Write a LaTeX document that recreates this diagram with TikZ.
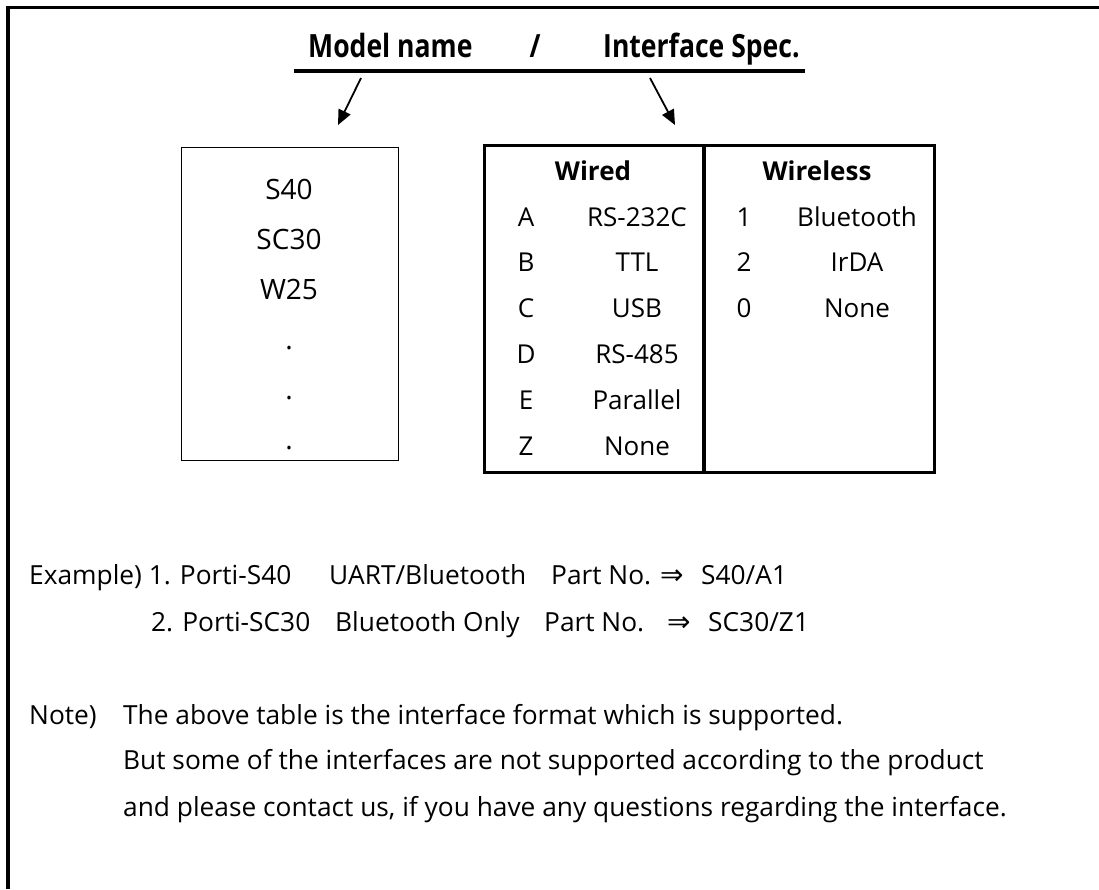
\documentclass[tikz,border=0pt]{standalone}
\usepackage{fontspec}
\setmainfont{Open Sans}
\newfontfamily\headfont{Open Sans}[FakeStretch=0.83]
\newfontfamily\symbfont{DejaVu Sans}
\usetikzlibrary{arrows.meta,positioning}
\begin{document}
\begin{tikzpicture}[x=1pt,y=-1pt,
    every node/.style={inner sep=0pt,font=\fontsize{26.3}{32}\selectfont},
    titletext/.style={anchor=base west,font=\fontsize{32}{36}\selectfont\headfont\bfseries},
    celltext/.style={anchor=base,font=\fontsize{26}{32}\selectfont},
    modeltext/.style={anchor=base,font=\fontsize{28}{32}\selectfont},
    bodytext/.style={anchor=base west},
    impl/.style={anchor=base west,font=\fontsize{28}{32}\selectfont\symbfont}]
    \useasboundingbox (0,0) rectangle (1099,889);
    \draw[line width=3.3pt] (8,889) -- (8,7.3) -- (1099,7.3);
    % title
    \node[titletext] (model) at (308,57) {Model name};
    \node[titletext,anchor=base] (slash) at (535,57) {/};
    \node[titletext] (spec) at (603,57) {Interface Spec.};
    \coordinate (ulleft) at (294,71);
    \coordinate (ulright) at (805,71);
    \draw[line width=3.5pt] (ulleft) -- (ulright);
    \coordinate (mfrom) at (361,78);
    \coordinate (mto) at (338,125);
    \coordinate (sfrom) at (650,78);
    \coordinate (sto) at (675,125);
    \draw[line width=1.8pt,-{Triangle[length=15pt,width=13pt]}] (mfrom) -- (mto);
    \draw[line width=1.8pt,-{Triangle[length=15pt,width=13pt]}] (sfrom) -- (sto);
    % model box
    \node[draw,line width=1.4pt,anchor=north west,minimum width=217,minimum height=313] (models) at (181,147) {};
    \foreach \m [count=\i] in {S40,SC30,W25,.,.,.}
        \node[modeltext] (m\i) at (289,149+50*\i) {\m};
    % interface table
    \node[draw,line width=3.3pt,anchor=north west,minimum width=450,minimum height=327] (iface) at (483,143.5) {};
    \draw[line width=3.3pt] (iface.north west -| 704,0) -- (iface.south west -| 704,0);
    \node[celltext,font=\fontsize{26}{32}\selectfont\bfseries] (wired) at (593,180) {Wired};
    \node[celltext,font=\fontsize{26}{32}\selectfont\bfseries] (wireless) at (817,180) {Wireless};
    \foreach \c/\n [count=\i] in {A/RS-232C,B/TTL,C/USB,D/RS-485,E/Parallel,Z/None}{
        \node[celltext] (wc\i) at (526,180.2+45.8*\i) {\c};
        \node[celltext] (wn\i) at (637,180.2+45.8*\i) {\n};
    }
    \foreach \c/\n [count=\i] in {1/Bluetooth,2/IrDA,0/None}{
        \node[celltext] (rc\i) at (744,180.2+45.8*\i) {\c};
        \node[celltext] (rn\i) at (857,180.2+45.8*\i) {\n};
    }
    % examples
    \node[bodytext] (exa1) at (29,584) {Example) 1. Porti-S40};
    \node[bodytext] (exa2) at (329,584) {UART/Bluetooth};
    \node[bodytext] (exa3) at (551,584) {Part No.};
    \node[impl] (exa4) at (660,584) {⇒};
    \node[bodytext] (exa5) at (701,584) {S40/A1};
    \node[bodytext] (exb1) at (151,631) {2. Porti-SC30};
    \node[bodytext] (exb2) at (335,631) {Bluetooth Only};
    \node[bodytext] (exb3) at (544,631) {Part No.};
    \node[impl] (exb4) at (667,631) {⇒};
    \node[bodytext] (exb5) at (708,631) {SC30/Z1};
    % note
    \node[bodytext] (note) at (29,724) {Note)};
    \node[bodytext] (note1) at (123,724) {The above table is the interface format which is supported.};
    \node[bodytext] (note2) at (123,769) {But some of the interfaces are not supported according to the product};
    \node[bodytext] (note3) at (123,816) {and please contact us, if you have any questions regarding the interface.};
\end{tikzpicture}
\end{document}
